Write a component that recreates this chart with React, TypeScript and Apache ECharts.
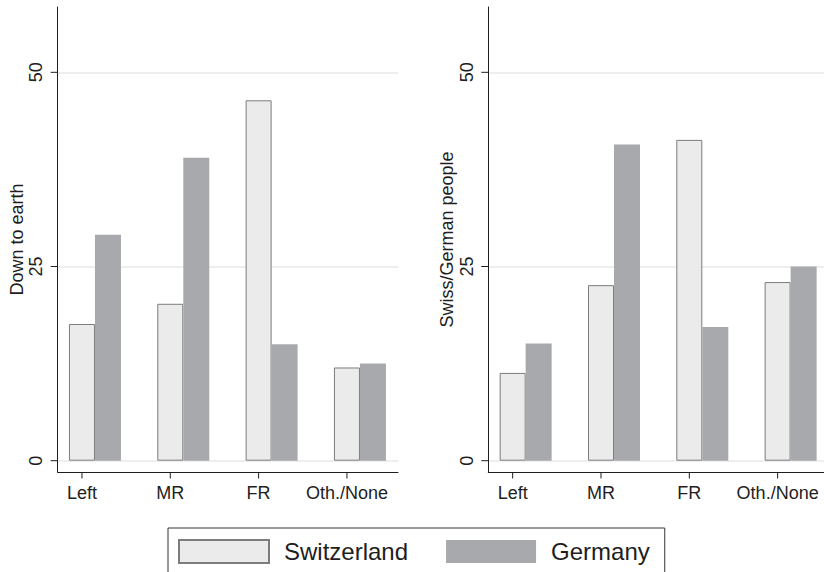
import React, { useEffect, useRef } from 'react';
import * as echarts from 'echarts';

const categories = ['Left', 'MR', 'FR', 'Oth./None'];
const seriesNames = ['Switzerland', 'Germany'];
const panelTitles = ['Down to earth', 'Swiss/German people'];

// Panel 1: Down to earth
const downSwiss = [17.6, 20.2, 46.4, 12.0];
const downGermany = [29.1, 39.0, 15.0, 12.5];
// Panel 2: Swiss/German people
const peopleSwiss = [11.3, 22.6, 41.3, 23.0];
const peopleGermany = [15.1, 40.7, 17.2, 25.0];

const yTicks = [0, 25, 50];
const Y_MAX = 58.41;

export default function App() {
  const ref = useRef<HTMLDivElement>(null);

  useEffect(() => {
    const chart = echarts.init(ref.current as HTMLDivElement, null, { renderer: 'svg' });
    const textColor = '#1e1e1e';
    const axisColor = '#1e1e1e';
    const font = '"Liberation Sans", Arial, sans-serif';

    const TOP = 7;
    const PLOT_H = 453.7; // top to the zero line
    const FRAME_H = 465; // top to the x axis line
    const AXIS_OFFSET = FRAME_H - PLOT_H;

    const panels = [
      { left: 57.7, width: 340.3, barLeft: 37.8, barWidth: 353.3, title: panelTitles[0], swiss: downSwiss, germany: downGermany },
      { left: 488.3, width: 335.7, barLeft: 468.5, barWidth: 353.3, title: panelTitles[1], swiss: peopleSwiss, germany: peopleGermany },
    ];

    const grid: any[] = [];
    const xAxis: any[] = [];
    const yAxis: any[] = [];
    const series: any[] = [];
    const valueAxisIdx: number[] = [];
    const catAxisIdx: number[] = [];

    panels.forEach((p) => {
      // Frame grid: axis lines + axis title
      const gF = grid.length;
      grid.push({ left: p.left, top: TOP, width: p.width, height: FRAME_H });
      xAxis.push({
        gridIndex: gF, type: 'value', min: 0, max: 1,
        axisLine: { show: true, onZero: false, lineStyle: { color: axisColor, width: 1 } },
        axisTick: { show: false }, axisLabel: { show: false }, splitLine: { show: false },
      });
      yAxis.push({
        gridIndex: gF, type: 'value', min: 0, max: 1,
        name: p.title, nameLocation: 'middle', nameGap: 32,
        nameTextStyle: { fontSize: 18, color: textColor, fontFamily: font },
        axisLine: { show: true, onZero: false, lineStyle: { color: axisColor, width: 1 } },
        axisTick: { show: false }, axisLabel: { show: false }, splitLine: { show: false },
      });

      // Value-scale grid: grid lines
      const gV = grid.length;
      grid.push({ left: p.left, top: TOP, width: p.width, height: PLOT_H });
      xAxis.push({ gridIndex: gV, type: 'value', min: 0, max: 1, show: false });
      yAxis.push({
        gridIndex: gV, type: 'value', min: 0, max: Y_MAX, interval: 25,
        axisLine: { show: false, onZero: false },
        axisTick: { show: false, customValues: yTicks },
        axisLabel: { show: false },
        splitLine: { show: true, lineStyle: { color: '#e9e9e9', width: 1.5 } },
      });
      valueAxisIdx.push(yAxis.length - 1);

      // Bar grid
      const gB = grid.length;
      grid.push({ left: p.barLeft, top: TOP, width: p.barWidth, height: PLOT_H });
      xAxis.push({
        gridIndex: gB, type: 'category', data: categories, offset: AXIS_OFFSET,
        axisLine: { show: false, onZero: false },
        axisTick: { show: false },
        axisLabel: { interval: 0, margin: 12, fontSize: 18, color: textColor, fontFamily: font },
        splitLine: { show: false },
      });
      yAxis.push({ gridIndex: gB, type: 'value', min: 0, max: Y_MAX, show: false });
      const xi = xAxis.length - 1;
      const yi = yAxis.length - 1;
      catAxisIdx.push(xi);

      series.push({ type: 'bar', name: 'spacer', xAxisIndex: xi, yAxisIndex: yi, data: [], barWidth: 26, barGap: '0%', silent: true });
      series.push({
        type: 'bar', name: seriesNames[0], xAxisIndex: xi, yAxisIndex: yi, data: p.swiss,
        barWidth: 26, barGap: '0%',
        itemStyle: { color: '#ebebeb', borderColor: '#7c7c7c', borderWidth: 1 },
        emphasis: { disabled: true },
      });
      series.push({
        type: 'bar', name: seriesNames[1], xAxisIndex: xi, yAxisIndex: yi, data: p.germany,
        barWidth: 26, barGap: '0%',
        itemStyle: { color: '#a8a9ac', borderWidth: 0 },
        emphasis: { disabled: true },
      });
    });

    chart.setOption({
      animation: false,
      textStyle: { fontFamily: font },
      grid, xAxis, yAxis,
      legend: {
        data: seriesNames, left: 168, top: 528, orient: 'horizontal', icon: 'rect',
        itemWidth: 90, itemHeight: 23, itemGap: 38, padding: [11, 15, 11, 10],
        borderColor: '#333', borderWidth: 1, selectedMode: false,
        textStyle: { fontSize: 24, color: textColor, fontFamily: font, padding: [0, 0, 0, 10] },
      },
      series,
    });

    // Stata-style ticks and vertical tick labels, placed through the axes' own scales
    const graphics: any[] = [];
    panels.forEach((p, i) => {
      const axisX = p.left;
      const xLineY = TOP + FRAME_H;
      yTicks.forEach((v) => {
        const py = chart.convertToPixel({ yAxisIndex: valueAxisIdx[i] }, v) as number;
        graphics.push({
          type: 'line', silent: true,
          shape: { x1: axisX - 7, y1: py, x2: axisX, y2: py },
          style: { stroke: axisColor, lineWidth: 1 },
        });
        graphics.push({
          type: 'text', silent: true,
          x: axisX - 21.5, y: py, rotation: Math.PI / 2,
          style: { text: String(v), fontSize: 18, fontFamily: font, fill: textColor, align: 'center', verticalAlign: 'middle' },
        });
      });
      categories.forEach((c) => {
        const px = chart.convertToPixel({ xAxisIndex: catAxisIdx[i] }, c) as number;
        graphics.push({
          type: 'line', silent: true,
          shape: { x1: px, y1: xLineY, x2: px, y2: xLineY + 6.5 },
          style: { stroke: axisColor, lineWidth: 1 },
        });
      });
    });
    chart.setOption({ graphic: graphics });

    return () => chart.dispose();
  }, []);

  return <div ref={ref} style={{ position: 'fixed', left: 0, top: 0, width: 824, height: 572, background: '#fff' }} />;
}
